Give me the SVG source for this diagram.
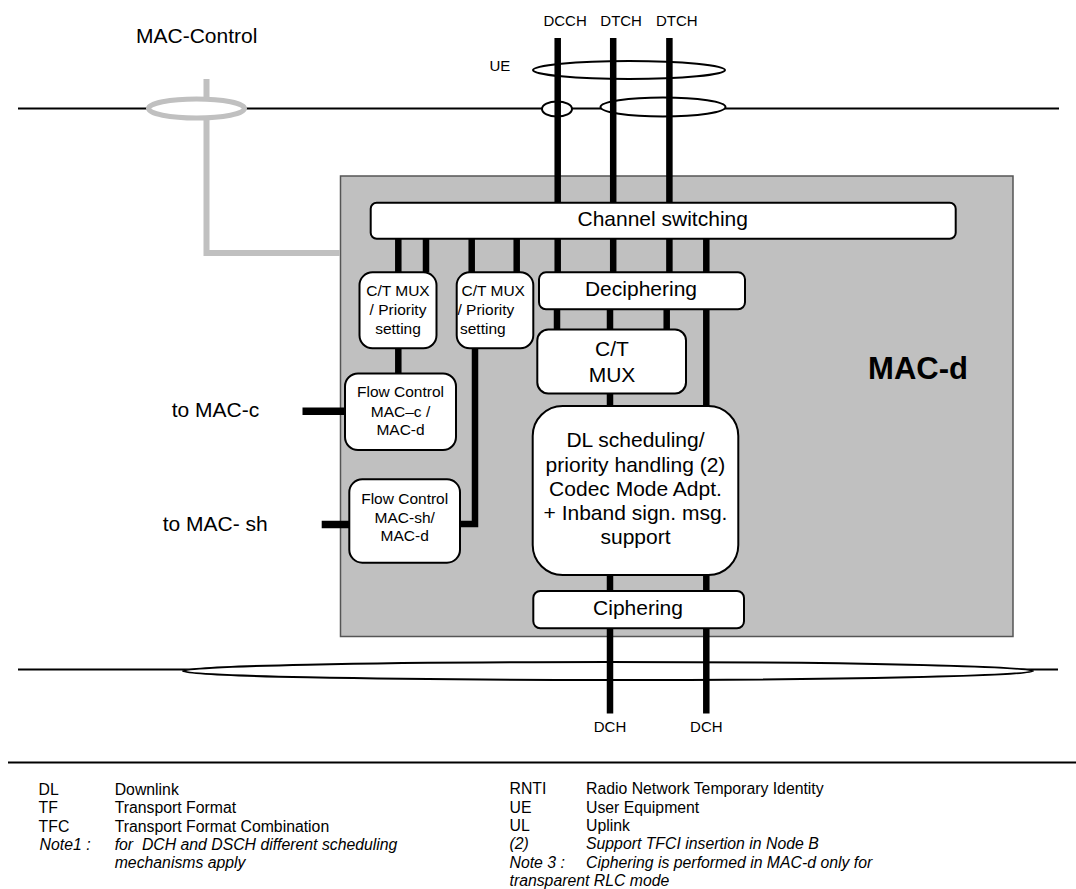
<svg xmlns="http://www.w3.org/2000/svg" width="1076" height="889" viewBox="0 0 1076 889">
<defs>
<style>
text{font-family:"Liberation Sans",Arial,Helvetica,sans-serif;fill:#000}
.t21{font-size:21px}
.t15{font-size:15px}
.t16{font-size:15.5px}
.lg{font-size:15.8px}
.it{font-style:italic}
.mid{text-anchor:middle}
.box{fill:#fff;stroke:#000;stroke-width:2}
.thin{stroke:#000;stroke-width:2;fill:none}
.ell{fill:#fff;stroke:#000;stroke-width:2}
.bus{stroke:#000;stroke-width:6.5;fill:none}
.ctl{stroke:#c0c0c0;stroke-width:6;fill:none}
</style>
</defs>
<rect width="1076" height="889" fill="#fff"/>

<g id="rails">
<line class="thin" x1="18" y1="108.5" x2="1059" y2="108.5"/>
<line class="thin" x1="18" y1="669.5" x2="1058" y2="669.5"/>
<line class="thin" x1="8" y1="762.5" x2="1076" y2="762.5"/>
</g>

<g id="mac-d">
<rect x="340.5" y="176" width="672.5" height="460.5" fill="#c0c0c0" stroke="#555" stroke-width="1.5"/>
<text x="918" y="379" font-size="31px" font-weight="bold" class="mid">MAC-d</text>
</g>

<g id="connectors">
<polyline class="ctl" points="206.5,79 206.5,253 340,253"/>
<ellipse cx="196.5" cy="108.5" rx="48" ry="9.5" fill="#fff" stroke="#c0c0c0" stroke-width="5"/>
<ellipse class="ell" cx="629" cy="70" rx="96" ry="9"/>
<ellipse class="ell" cx="557" cy="109" rx="15" ry="7.5"/>
<ellipse class="ell" cx="663" cy="107" rx="62.5" ry="9.5"/>
<ellipse class="ell" cx="608" cy="671" rx="425" ry="9"/>
<g class="bus">
<line x1="557.7" y1="38" x2="557.7" y2="203"/>
<line x1="613.2" y1="38" x2="613.2" y2="203"/>
<line x1="669.4" y1="38" x2="669.4" y2="203"/>
<line x1="398.3" y1="239" x2="398.3" y2="272"/>
<line x1="426" y1="239" x2="426" y2="272"/>
<line x1="471.7" y1="239" x2="471.7" y2="272"/>
<line x1="516.7" y1="239" x2="516.7" y2="272"/>
<line x1="557.7" y1="239" x2="557.7" y2="272"/>
<line x1="613.2" y1="239" x2="613.2" y2="272"/>
<line x1="669.4" y1="239" x2="669.4" y2="272"/>
<line x1="706.3" y1="239" x2="706.3" y2="406"/>
<line x1="557" y1="309" x2="557" y2="330"/>
<line x1="610" y1="309" x2="610" y2="330"/>
<line x1="666.7" y1="309" x2="666.7" y2="330"/>
<line x1="610" y1="393" x2="610" y2="406"/>
<line x1="398.3" y1="348" x2="398.3" y2="373.5"/>
<polyline points="475,348 475,524 460,524"/>
<line x1="610" y1="575" x2="610" y2="591"/>
<line x1="706.3" y1="575" x2="706.3" y2="591"/>
<line x1="610" y1="628" x2="610" y2="713.5"/>
<line x1="706.3" y1="628" x2="706.3" y2="713.5"/>
</g>
<line stroke="#000" stroke-width="7.5" x1="302.5" y1="411.3" x2="345" y2="411.3"/>
<line stroke="#000" stroke-width="7.5" x1="321.7" y1="524.5" x2="349.5" y2="524.5"/>
</g>

<g id="channel-switching">
<rect class="box" x="370.7" y="202.8" width="585" height="36" rx="6"/>
<text class="t21 mid" x="662.7" y="226">Channel switching</text>
</g>

<g id="ctmux-priority-1">
<rect class="box" x="359.5" y="272.3" width="77" height="76" rx="13"/>
<text class="t16 mid" x="398" y="296">C/T MUX</text>
<text class="t16 mid" x="398" y="315">/ Priority</text>
<text class="t16 mid" x="398" y="334">setting</text>
</g>

<g id="ctmux-priority-2">
<rect class="box" x="456.7" y="272.3" width="76.6" height="76" rx="13"/>
<text class="t16" x="461.5" y="296">C/T MUX</text>
<text class="t16" x="457.5" y="315">/ Priority</text>
<text class="t16" x="460" y="334">setting</text>
</g>

<g id="deciphering">
<rect class="box" x="539" y="272.3" width="206" height="37" rx="7"/>
<text class="t21 mid" x="641" y="296">Deciphering</text>
</g>

<g id="ctmux">
<rect class="box" x="537.3" y="329.5" width="148.7" height="64" rx="11"/>
<text class="t21 mid" x="612" y="356">C/T</text>
<text class="t21 mid" x="612" y="381.7">MUX</text>
</g>

<g id="flow-control-mac-c">
<rect class="box" x="345" y="373.5" width="111" height="76.5" rx="13"/>
<text class="t16 mid" x="400.5" y="397.3">Flow Control</text>
<text class="t16 mid" x="400.5" y="416.7">MAC–c /</text>
<text class="t16 mid" x="400.5" y="434.5">MAC-d</text>
</g>

<g id="flow-control-mac-sh">
<rect class="box" x="349.3" y="479.3" width="110.7" height="83.4" rx="13"/>
<text class="t16 mid" x="404.7" y="504">Flow Control</text>
<text class="t16 mid" x="404.7" y="522.7">MAC-sh/</text>
<text class="t16 mid" x="404.7" y="540.7">MAC-d</text>
</g>

<g id="dl-scheduling">
<rect class="box" x="532.7" y="406" width="205.6" height="169" rx="30"/>
<text class="t21 mid" x="635.5" y="446.7">DL scheduling/</text>
<text class="t21 mid" x="635.5" y="471.5">priority handling (2)</text>
<text class="t21 mid" x="635.5" y="496">Codec Mode Adpt.</text>
<text class="t21 mid" x="635.5" y="520">+ Inband sign. msg.</text>
<text class="t21 mid" x="635.5" y="544.3">support</text>
</g>

<g id="ciphering">
<rect class="box" x="533.3" y="591" width="210.7" height="37.3" rx="7"/>
<text class="t21 mid" x="638" y="615">Ciphering</text>
</g>

<g id="labels">
<text class="t21" x="136" y="43">MAC-Control</text>
<text class="t15" x="489.5" y="71">UE</text>
<text class="t15" x="543.4" y="26">DCCH</text>
<text class="t15" x="600.3" y="26">DTCH</text>
<text class="t15" x="656" y="26">DTCH</text>
<text class="t21" x="171.7" y="416.7">to MAC-c</text>
<text class="t21" x="162.7" y="530.7">to MAC- sh</text>
<text class="t15 mid" x="610" y="732">DCH</text>
<text class="t15 mid" x="706.3" y="732">DCH</text>
</g>

<g id="legend">
<text class="lg" x="38.6" y="795">DL</text>
<text class="lg" x="114.7" y="795">Downlink</text>
<text class="lg" x="38.6" y="813.3">TF</text>
<text class="lg" x="114.7" y="813.3">Transport Format</text>
<text class="lg" x="38.6" y="831.7">TFC</text>
<text class="lg" x="114.7" y="831.7">Transport Format Combination</text>
<text class="lg it" x="39.6" y="850">Note1 :</text>
<text class="lg it" x="114.7" y="850" xml:space="preserve">for  DCH and DSCH different scheduling</text>
<text class="lg it" x="114.7" y="868.3">mechanisms apply</text>
<text class="lg" x="509.5" y="794.3">RNTI</text>
<text class="lg" x="586" y="794.3">Radio Network Temporary Identity</text>
<text class="lg" x="509.5" y="812.7">UE</text>
<text class="lg" x="586" y="812.7">User Equipment</text>
<text class="lg" x="509.5" y="831">UL</text>
<text class="lg" x="586" y="831">Uplink</text>
<text class="lg it" x="509.5" y="849.4">(2)</text>
<text class="lg it" x="586" y="849.4">Support TFCI insertion in Node B</text>
<text class="lg it" x="509.5" y="867.8">Note 3 :</text>
<text class="lg it" x="586" y="867.8">Ciphering is performed in MAC-d only for</text>
<text class="lg it" x="509.5" y="886.2">transparent RLC mode</text>
</g>
</svg>
